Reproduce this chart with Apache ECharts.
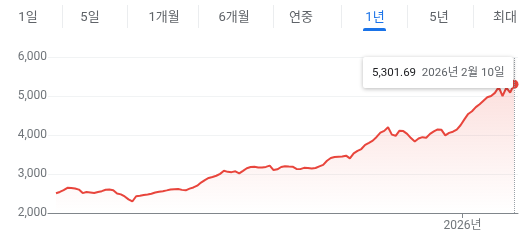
<!DOCTYPE html>
<html><head><meta charset="utf-8">
<script src="https://cdn.jsdelivr.net/npm/echarts@6/dist/echarts.min.js"></script>
<style>html,body{margin:0;padding:0;background:#fff}#c{width:530px;height:245px}</style>
</head><body><div id="c"></div>
<script>
// ---- data ----
// closing values, one sample every ~2 trading days (Feb 2025 -> 10 Feb 2026)
const closes = [2505,2540,2585,2645,2642,2628,2600,2510,2538,2528,
2515,2538,2560,2595,2602,2585,2500,2478,2425,2350,
2295,2430,2440,2462,2477,2495,2525,2545,2560,2580,
2602,2612,2615,2593,2582,2625,2655,2700,2780,2845,
2898,2925,2955,3003,3082,3055,3048,3068,3018,3082,
3148,3178,3185,3168,3165,3182,3215,3100,3120,3180,
3200,3193,3188,3130,3125,3158,3155,3140,3155,3195,
3235,3340,3410,3435,3445,3448,3470,3400,3530,3595,
3640,3748,3800,3855,3950,4060,4105,4200,4010,3980,
4110,4100,4030,3920,3835,3910,3945,3930,4030,4095,
4143,4132,3990,4055,4085,4140,4250,4400,4540,4610,
4715,4790,4880,4970,5000,5080,5230,5000,5215,5085,
5301.69];
const xTickPositions = [106.5];          // sample index of 2026-01-02
const xTickLabels = ['2026년'];
const yMin = 2000, yMax = 6000, yStep = 1000;
const lastDateLabel = '2026년 2월 10일';
const tabs = ['1일','5일','1개월','6개월','연중','1년','5년','최대'];
const selectedTab = '1년';

// ---- layout ----
const tabCenters = [28, 90, 164, 234, 301, 375, 439, 505];
const tabSeparators = [62, 127, 198, 273, 341, 407, 473];
const FONT = "Roboto, 'Noto Sans CJK KR', sans-serif";
const RED = '#e8453c';

const chart = echarts.init(document.getElementById('c'));
const lastIdx = closes.length - 1;

const graphic = [];
tabs.forEach((t, i) => {
  graphic.push({type:'text', x: tabCenters[i], y: 18, silent:true,
    style:{text:t, align:'center', verticalAlign:'middle',
      fill: t === selectedTab ? '#1a73e8' : '#5f6368', font: '13px ' + FONT}});
  if (t === selectedTab) {
    graphic.push({type:'rect', silent:true, shape:{x: tabCenters[i]-12, y:28, width:23, height:3, r:[2,2,0,0]},
      style:{fill:'#1a73e8'}});
  }
});
tabSeparators.forEach(x => graphic.push({type:'line', silent:true,
  shape:{x1:x+0.5, y1:5, x2:x+0.5, y2:28}, style:{stroke:'#ebedef', lineWidth:1}}));

chart.setOption({
  animation:false,
  textStyle:{fontFamily:FONT},
  grid:{left:48, right:12, top:57, bottom:32},
  xAxis:{type:'value', min:-2.096, max:lastIdx + 1.048,
    axisLine:{show:true, lineStyle:{color:'#80868b', width:1}},
    axisTick:{show:true, customValues:xTickPositions, length:5, lineStyle:{color:'#80868b'}},
    axisLabel:{show:true, customValues:xTickPositions, margin:7, color:'#70757a', fontSize:12, fontFamily:FONT,
      formatter: v => { const k = xTickPositions.indexOf(v); return k >= 0 ? xTickLabels[k] : ''; }},
    splitLine:{show:false}},
  yAxis:{type:'value', min:yMin, max:yMax, interval:yStep,
    axisLine:{show:false}, axisTick:{show:false},
    axisLabel:{margin:1, color:'#70757a', fontSize:12, fontFamily:FONT,
      formatter: v => v.toLocaleString('en-US')},
    splitLine:{lineStyle:{color:'#f1f3f4', width:1}}},
  tooltip:{trigger:'axis', alwaysShowContent:true, transitionDuration:0,
    backgroundColor:'#fff', borderWidth:0, padding:[7,9],
    extraCssText:'box-shadow:0 1px 4px rgba(0,0,0,0.28);border-radius:2px;',
    textStyle:{fontFamily:FONT, fontSize:11.5},
    axisPointer:{type:'line', lineStyle:{color:'#9aa0a6', type:'dotted', width:1}},
    position:(point, params, dom, rect, size) => [point[0] - size.contentSize[0] - 1, 57],
    formatter: params => {
      const p = params.find(q => q.seriesIndex === 0) || params[0];
      const v = p.value[1];
      const label = p.dataIndex === lastIdx ? lastDateLabel : '';
      return '<span style="color:#202124">' + v.toLocaleString('en-US',{minimumFractionDigits:2, maximumFractionDigits:2}) +
        '</span>&nbsp;&nbsp;<span style="color:#5f6368">' + label + '</span>';
    }},
  graphic: graphic,
  series:[{
    type:'line', data: closes.map((v, i) => [i, v]), showSymbol:false, symbol:'none',
    lineStyle:{color:RED, width:2}, emphasis:{disabled:true},
    areaStyle:{color: new echarts.graphic.LinearGradient(0,0,0,1,[
      {offset:0, color:'rgba(234,67,53,0.24)'}, {offset:1, color:'rgba(234,67,53,0)'}])}
  },{
    type:'scatter', data:[[lastIdx, closes[lastIdx]]], symbolSize:9, silent:true,
    itemStyle:{color:RED, opacity:1}, emphasis:{disabled:true}, tooltip:{show:false}, z:5
  }]
});
chart.dispatchAction({type:'showTip', seriesIndex:0, dataIndex:lastIdx});
</script>
</body></html>
